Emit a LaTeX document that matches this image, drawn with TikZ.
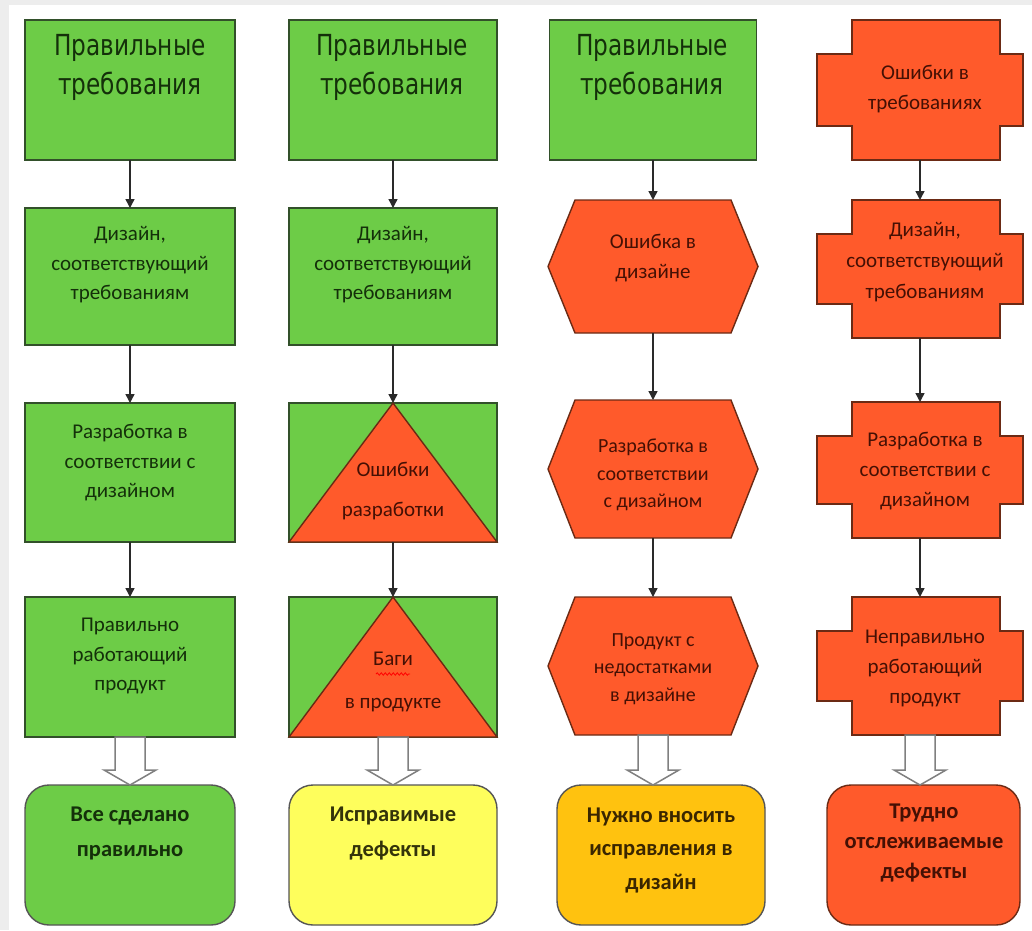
\documentclass[tikz,border=0pt]{standalone}
\usepackage{fontspec}
\setmainfont{Carlito}
\newfontfamily\topfont[FakeStretch=0.8]{DejaVu Sans}
\newfontfamily\bodyfont{Carlito}
\usetikzlibrary{arrows.meta,calc,decorations.pathmorphing}
\definecolor{framegray}{HTML}{EDEDED}
\definecolor{gfill}{HTML}{6DCC47}
\definecolor{gline}{HTML}{32502A}
\definecolor{ofill}{HTML}{FF5A2B}
\definecolor{oline}{HTML}{6B2A14}
\definecolor{yfill}{HTML}{FEFE5C}
\definecolor{afill}{HTML}{FFC20F}
\definecolor{dline}{HTML}{555555}
\definecolor{linec}{HTML}{2A2A2A}
\definecolor{gtxt}{HTML}{14300A}
\definecolor{otxt}{HTML}{451004}
\definecolor{ytxt}{HTML}{33330A}
\definecolor{atxt}{HTML}{3A2600}
\definecolor{hollowc}{HTML}{808080}
\newcommand\hollowarrow[2]{%
  \draw[hollow] ($(#1)+(-15,0)$) -- ($(#1 |- #2)+(-15,-15)$) -- ($(#1 |- #2)+(-26,-15)$)
    -- (#1 |- #2) -- ($(#1 |- #2)+(26,-15)$) -- ($(#1 |- #2)+(15,-15)$) -- ($(#1)+(15,0)$) -- cycle;}
\newcommand\crosspath[1]{%
  \path[obox] ($(#1.north west)+(35,0)$) -- ($(#1.north east)+(-23,0)$) -- ($(#1.north east)+(-23,34)$)
    -- ($(#1.north east)+(0,34)$) -- ($(#1.south east)+(0,-34)$) -- ($(#1.south east)+(-23,-34)$)
    -- ($(#1.south east)+(-23,0)$) -- ($(#1.south west)+(35,0)$) -- ($(#1.south west)+(35,-34)$)
    -- ($(#1.south west)+(0,-34)$) -- ($(#1.north west)+(0,34)$) -- ($(#1.north west)+(35,34)$) -- cycle;}
\newcommand\hexpath[1]{%
  \path[obox] (#1.west) -- ($(#1.north west)+(27,0)$) -- ($(#1.north east)+(-27,0)$) -- (#1.east)
    -- ($(#1.south east)+(-27,0)$) -- ($(#1.south west)+(27,0)$) -- cycle;}
\begin{document}
\begin{tikzpicture}[x=1pt,y=-1pt,
  gbox/.style={rectangle,draw=gline,fill=gfill,line width=1.4,outer sep=0,inner sep=0},
  frame/.style={rectangle,draw=none,outer sep=0,inner sep=0},
  obox/.style={draw=oline,fill=ofill,line width=1.4},
  tri/.style={draw=oline,fill=ofill,line width=1.4},
  rbox/.style={rectangle,rounded corners=24,draw=dline,line width=1.4,outer sep=0,inner sep=0},
  conn/.style={draw=linec,line width=1.4,-{Triangle[length=9pt,width=9pt]}},
  hollow/.style={draw=hollowc,fill=white,line width=1.5,line join=miter},
  toptxt/.style={align=center,text=gtxt,font={\topfont\fontsize{29}{39}\selectfont}},
  gtext/.style={align=center,text=gtxt,font={\bodyfont\fontsize{21}{29.5}\selectfont}},
  otext/.style={align=center,text=otxt,font={\bodyfont\fontsize{21}{29.5}\selectfont}},
  btext/.style={align=center,font={\bodyfont\bfseries\fontsize{22.5}{35}\selectfont}}]
\fill[framegray] (0,0) rectangle (1032,930);
\fill[white] (9,5) rectangle (1032,930);
\useasboundingbox (0,0) rectangle (1032,930);

% column 1
\node[gbox,minimum width=210,minimum height=140] (b11) at (130,90) {};
\node[gbox,minimum width=210,minimum height=137] (b12) at (130,276.5) {};
\node[gbox,minimum width=210,minimum height=139] (b13) at (130,472.5) {};
\node[gbox,minimum width=210,minimum height=140] (b14) at (130,667) {};
\node[rbox,fill=gfill,minimum width=210,minimum height=140] (r1) at (130,855) {};

% column 2
\node[gbox,minimum width=208,minimum height=140] (b21) at (393,90) {};
\node[gbox,minimum width=208,minimum height=137] (b22) at (393,276.5) {};
\node[gbox,minimum width=208,minimum height=139] (b23) at (393,472.5) {};
\node[gbox,minimum width=208,minimum height=140] (b24) at (393,667) {};
\draw[tri] (b23.south west) -- (b23.north) -- (b23.south east) -- cycle;
\draw[tri] (b24.south west) -- (b24.north) -- (b24.south east) -- cycle;
\node[rbox,fill=yfill,minimum width=208,minimum height=140] (r2) at (393,855) {};

% column 3
\node[gbox,minimum width=207,minimum height=140] (b31) at (653,90) {};
\node[frame,minimum width=210,minimum height=133] (h1) at (653,266.5) {};
\node[frame,minimum width=210,minimum height=138] (h2) at (653,469) {};
\node[frame,minimum width=210,minimum height=138] (h3) at (653,666) {};
\hexpath{h1}\hexpath{h2}\hexpath{h3}
\node[rbox,fill=afill,minimum width=208,minimum height=140] (r3) at (661,855) {};

% column 4
\node[frame,minimum width=206,minimum height=140] (c1) at (920,90) {};
\node[frame,minimum width=206,minimum height=138] (c2) at (920,269) {};
\node[frame,minimum width=206,minimum height=136] (c3) at (920,470) {};
\node[frame,minimum width=206,minimum height=138] (c4) at (920,666) {};
\crosspath{c1}\crosspath{c2}\crosspath{c3}\crosspath{c4}
\node[rbox,fill=ofill,draw=oline,minimum width=193,minimum height=140] (r4) at (923.5,855) {};

% connectors
\draw[conn] (b11.south) -- (b12.north);
\draw[conn] (b12.south) -- (b13.north);
\draw[conn] (b13.south) -- (b14.north);
\draw[conn] (b21.south) -- (b22.north);
\draw[conn] (b22.south) -- (b23.north);
\draw[conn] (b23.south) -- (b24.north);
\draw[conn] (b31.south) -- (h1.north);
\draw[conn] (h1.south) -- (h2.north);
\draw[conn] (h2.south) -- (h3.north);
\draw[conn] (c1.south) -- (c2.north);
\draw[conn] (c2.south) -- (c3.north);
\draw[conn] (c3.south) -- (c4.north);
\hollowarrow{b14.south}{r1.north}
\hollowarrow{b24.south}{r2.north}
\hollowarrow{h3.south}{r3.north}
\hollowarrow{c4.south}{r4.north}

% texts column 1
\node[toptxt] (t11) at (130,67.5) {Правильные\\требования};
\node[gtext] (t12) at (130,265) {Дизайн,\\соответствующий\\требованиям};
\node[gtext] (t13) at (130,463) {Разработка в\\соответствии с\\дизайном};
\node[gtext] (t14) at (130,656) {Правильно\\работающий\\продукт};
\node[btext,text=gtxt] (t15) at (130,833) {Все сделано\\правильно};
% texts column 2
\node[toptxt] (t21) at (392,67.5) {Правильные\\требования};
\node[gtext] (t22) at (393,265) {Дизайн,\\соответствующий\\требованиям};
\node[otext,font={\bodyfont\fontsize{21}{40}\selectfont}] (t23) at (393,491) {Ошибки\\разработки};
\node[otext,font={\bodyfont\fontsize{21}{43}\selectfont}] (t24) at (393,682) {Баги\\в продукте};
\coordinate (sq) at (393,674);
\draw[red,line width=0.8,decorate,decoration={snake,amplitude=1.2,segment length=4}] ($(sq)+(-17,0)$) -- ($(sq)+(17,0)$);
\node[btext,text=ytxt] (t25) at (393,833) {Исправимые\\дефекты};
% texts column 3
\node[toptxt] (t31) at (652,67.5) {Правильные\\требования};
\node[otext] (t32) at (653,258) {Ошибка в\\дизайне};
\node[otext,font={\bodyfont\fontsize{20}{27.5}\selectfont}] (t33) at (653,475) {Разработка в\\соответствии\\с дизайном};
\node[otext,font={\bodyfont\fontsize{20}{27.5}\selectfont}] (t34) at (653,669) {Продукт с\\недостатками\\в дизайне};
\node[btext,text=atxt,font={\bodyfont\bfseries\fontsize{22.5}{33.5}\selectfont}] (t35) at (661,850) {Нужно вносить\\исправления в\\дизайн};
% texts column 4
\node[otext] (t41) at (925,89) {Ошибки в\\требованиях};
\node[otext,font={\bodyfont\fontsize{21}{31}\selectfont}] (t42) at (925,262) {Дизайн,\\соответствующий\\требованиям};
\node[otext,font={\bodyfont\fontsize{21}{30}\selectfont}] (t43) at (925,471) {Разработка в\\соответствии с\\дизайном};
\node[otext,font={\bodyfont\fontsize{21}{30}\selectfont}] (t44) at (925,668) {Неправильно\\работающий\\продукт};
\node[btext,text=otxt,font={\bodyfont\bfseries\fontsize{22.5}{30}\selectfont}] (t45) at (924,843) {Трудно\\отслеживаемые\\дефекты};
\end{tikzpicture}
\end{document}
